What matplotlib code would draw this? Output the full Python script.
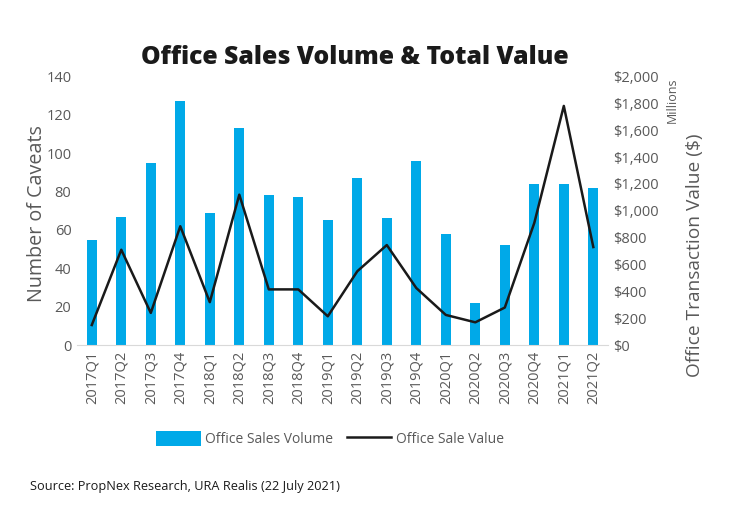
import numpy as np
import matplotlib.pyplot as plt

quarters = ['2017Q1', '2017Q2', '2017Q3', '2017Q4', '2018Q1', '2018Q2', '2018Q3', '2018Q4',
            '2019Q1', '2019Q2', '2019Q3', '2019Q4', '2020Q1', '2020Q2', '2020Q3', '2020Q4',
            '2021Q1', '2021Q2']
volume = [55, 67, 95, 127, 69, 113, 78, 77, 65, 87, 66, 96, 58, 22, 52, 84, 84, 82]
value_mil = [150, 710, 240, 885, 320, 1120, 415, 415, 215, 550, 745, 425, 225, 170, 280, 910, 1780, 730]

plt.rcParams['font.family'] = ['Open Sans', 'DejaVu Sans']
grey = '#595959'
blue = '#00A9E8'

fig = plt.figure(figsize=(7.45, 5.23), dpi=100)
ax = fig.add_axes([0.1034, 0.34, 0.7128, 0.514])
x = np.arange(len(quarters))
bars = ax.bar(x, volume, width=0.34, color=blue, label='Office Sales Volume', zorder=2)
ax.set_ylim(0, 140)
ax.set_yticks(range(0, 141, 20))
ax.set_xlim(-0.5, len(quarters) - 0.5)
ax.set_xticks(x)
ax.set_xticklabels(quarters, rotation=90, color=grey, fontsize=10.5)
ax.tick_params(axis='y', colors=grey, labelsize=10.5, length=0, pad=4)
ax.tick_params(axis='x', length=0, pad=4)
for s in ['top', 'right', 'left']:
    ax.spines[s].set_visible(False)
ax.spines['bottom'].set_color('#d9d9d9')
ax.set_ylabel('Number of Caveats', color=grey, fontsize=14.2)
ax.yaxis.set_label_coords(-0.057, 0.49)

ax2 = ax.twinx()
line, = ax2.plot(x, value_mil, color='#1a1a1a', lw=1.8, label='Office Sale Value', zorder=3)
ax2.set_ylim(0, 2000)
ax2.set_yticks(range(0, 2001, 200))
ax2.set_yticklabels(['${:,}'.format(v) for v in range(0, 2001, 200)])
ax2.tick_params(axis='y', colors=grey, labelsize=10.5, length=0, pad=4)
for s in ['top', 'right', 'left', 'bottom']:
    ax2.spines[s].set_visible(False)
ax2.set_ylabel('Office Transaction Value ($)', color=grey, fontsize=13.8, rotation=90)
ax2.yaxis.set_label_coords(1.147, 0.334)
fig.text(0.903, 0.809, 'Millions', rotation=90, color=grey, fontsize=9, ha='center', va='center')

fig.text(0.4765, 0.89, 'Office Sales Volume & Total Value', ha='center', va='center',
         fontsize=17.8, fontweight='heavy', color='#1a1a1a')

fig.legend([bars, line], ['Office Sales Volume', 'Office Sale Value'], loc='center',
           bbox_to_anchor=(0.443, 0.161), ncol=2, frameon=False, fontsize=10,
           labelcolor=grey, handlelength=3.2, handleheight=1.3, columnspacing=1.0, handletextpad=0.3)

fig.text(0.04, 0.069, 'Source: PropNex Research, URA Realis (22 July 2021)', fontsize=9.2,
         color='#1a1a1a', va='center')

fig.savefig('out.png', dpi=100)
